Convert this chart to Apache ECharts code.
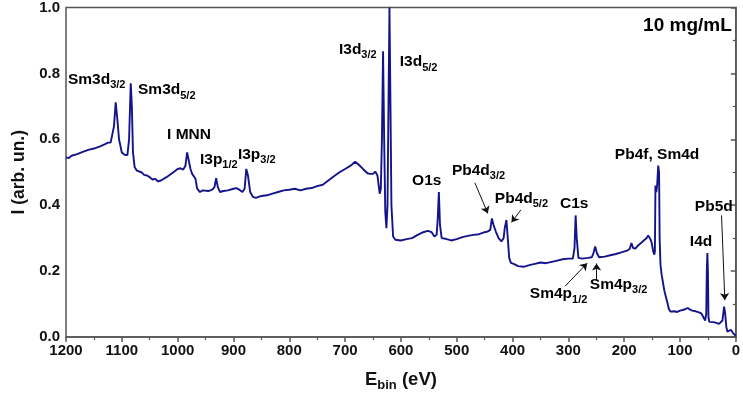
<!DOCTYPE html>
<html>
<head>
<meta charset="utf-8">
<script src="https://cdn.jsdelivr.net/npm/echarts@6/dist/echarts.min.js"></script>
<style>
html,body{margin:0;padding:0;background:#fff;}
#c{width:743px;height:406px;}
</style>
</head>
<body>
<div id="c"></div>
<script>
// Binding energy (eV) and intensity (arb. un.)
const energy = [
1200,1195,1190,1180,1170,1160,1150,1140,1130,1125,1120,1117,1114,1111,1108,1105,1100,1095,1090,1087,1084,1082,1080,1077,1073,1065,1060,1055,1050,1045,1040,1035,1030,1020,1010,1000,995,990,986,983,980,977,974,971,968,965,960,955,945,938,934,931,928,924,918,910,900,895,890,884,880,877,874,870,865,860,850,840,830,820,810,800,790,780,770,760,750,740,730,720,710,700,690,682,675,668,660,655,650,646,642,638,636,634,632,630,628,626,624,622,620.5,619,617,614,610,600,590,580,570,560,552,545,540,536,534,532,530,527,520,510,500,490,480,470,460,450,445,440,437,434,430,425,420,416,414,411,409,406,403,398,390,380,370,360,350,340,330,320,310,300,292,289,287,285,282,275,265,258,255,252,249,245,235,225,215,205,195,190,187,184,180,175,170,165,160,157,154,151,148,146,145,144,142.5,141,139,137.5,136.5,135,133,131,128,125,122,120,117,110,105,100,95,90,86,82,78,72,66,62,58,55,53,52,51,50,49,47.5,45,40,35,30,27,24,21,19,17,15,12,9,7,5,3,1,0
];
const intensity = [
0.545,0.543,0.550,0.555,0.562,0.568,0.572,0.578,0.585,0.590,0.590,0.595,0.640,0.712,0.660,0.600,0.560,0.553,0.552,0.600,0.770,0.700,0.560,0.515,0.505,0.500,0.492,0.490,0.485,0.478,0.480,0.472,0.475,0.485,0.497,0.510,0.512,0.508,0.520,0.560,0.555,0.510,0.495,0.500,0.480,0.450,0.440,0.445,0.443,0.447,0.455,0.482,0.455,0.440,0.443,0.445,0.450,0.452,0.448,0.440,0.450,0.510,0.490,0.440,0.425,0.422,0.428,0.430,0.435,0.440,0.445,0.447,0.450,0.445,0.450,0.452,0.458,0.462,0.475,0.488,0.500,0.510,0.520,0.532,0.522,0.510,0.497,0.495,0.495,0.502,0.490,0.435,0.450,0.600,0.867,0.600,0.380,0.330,0.400,0.750,1.000,0.750,0.400,0.305,0.295,0.293,0.297,0.300,0.310,0.318,0.322,0.318,0.305,0.310,0.360,0.440,0.340,0.300,0.298,0.293,0.297,0.303,0.307,0.310,0.312,0.318,0.320,0.325,0.360,0.340,0.320,0.300,0.290,0.300,0.330,0.355,0.310,0.240,0.225,0.222,0.215,0.213,0.218,0.222,0.226,0.224,0.228,0.232,0.236,0.238,0.238,0.270,0.369,0.300,0.240,0.238,0.240,0.242,0.255,0.275,0.255,0.242,0.244,0.248,0.252,0.257,0.262,0.268,0.285,0.270,0.268,0.278,0.285,0.293,0.300,0.308,0.300,0.288,0.260,0.250,0.260,0.460,0.440,0.460,0.520,0.500,0.300,0.220,0.190,0.170,0.140,0.120,0.100,0.085,0.077,0.078,0.076,0.080,0.082,0.085,0.088,0.083,0.080,0.078,0.075,0.072,0.060,0.050,0.070,0.200,0.255,0.200,0.060,0.046,0.045,0.045,0.043,0.040,0.037,0.050,0.092,0.070,0.030,0.016,0.018,0.022,0.020,0.012,0.010,0.005,0.003
];
const xTicks = [0, 1200, 100];
const yTicks = [0, 1, 0.2];

// Peak labels (rich text) and their anchor points in data coordinates
const annoText = [
  '{m|Sm3d}{s|3/2}', '{m|Sm3d}{s|5/2}', '{m|I MNN}', '{m|I3p}{s|1/2}', '{m|I3p}{s|3/2}',
  '{m|I3d}{s|3/2}', '{m|I3d}{s|5/2}', '{m|O1s}', '{m|Pb4d}{s|3/2}', '{m|Pb4d}{s|5/2}',
  '{m|C1s}', '{m|Sm4p}{s|1/2}', '{m|Sm4p}{s|3/2}', '{m|Pb4f, Sm4d}', '{m|Pb5d}', '{m|I4d}',
  '{t|10 mg/mL}'
];
const annoE = [1196.5, 1071, 1019, 960, 892, 711, 602, 580, 508.7, 431.7, 315, 369, 261.5, 216.7, 73.4, 82.4, 7.2];
const annoI = [0.782, 0.749, 0.613, 0.538, 0.553, 0.873, 0.834, 0.474, 0.505, 0.42, 0.405, 0.13, 0.16, 0.553, 0.396, 0.29, 0.946];
const annoAlign = ['left','left','left','left','left','left','left','left','left','left','left','left','left','left','left','left','right'];

// Arrows: [E start, I start, E end, I end]
const arrows = [
  [467.5, 0.468, 444.3, 0.375],
  [385, 0.386, 401.8, 0.348],
  [306, 0.154, 266.3, 0.224],
  [249.5, 0.172, 249.5, 0.223],
  [25.6, 0.369, 19.7, 0.112]
];

const FONT = '"Liberation Sans", Arial, sans-serif';
const rich = {
  m: {fontSize: 15.5, fontWeight: 'bold', fill: '#000', fontFamily: FONT, lineHeight: 22},
  s: {fontSize: 11, fontWeight: 'bold', fill: '#000', fontFamily: FONT, lineHeight: 11, verticalAlign: 'bottom'},
  t: {fontSize: 19, fontWeight: 'bold', fill: '#000', fontFamily: FONT, lineHeight: 24}
};
const axisColor = '#555';

const chart = echarts.init(document.getElementById('c'), null, {renderer: 'canvas'});
chart.setOption({
  animation: false,
  backgroundColor: '#fff',
  grid: {left: 66, right: 7, top: 6, bottom: 69, show: true, borderColor: axisColor, borderWidth: 1.5, backgroundColor: 'transparent'},
  xAxis: {
    type: 'value', inverse: true, min: xTicks[0], max: xTicks[1], interval: xTicks[2],
    axisLine: {show: true, lineStyle: {color: axisColor, width: 1.5}},
    axisTick: {show: true, inside: false, length: 5, lineStyle: {color: axisColor, width: 1.5}},
    minorTick: {show: true, splitNumber: 2, length: 3, lineStyle: {color: axisColor, width: 1.2}},
    splitLine: {show: false},
    axisLabel: {color: '#111', fontSize: 15, fontWeight: 'bold', fontFamily: FONT, margin: 6,
      formatter: v => String(v)},
    name: '{m|E}{s|bin}{m| (eV)}', nameLocation: 'middle', nameGap: 31,
    nameTextStyle: {rich: {
      m: {fontSize: 18.5, fontWeight: 'bold', color: '#111', fontFamily: FONT, lineHeight: 24},
      s: {fontSize: 13, fontWeight: 'bold', color: '#111', fontFamily: FONT, lineHeight: 13, verticalAlign: 'bottom'}
    }}
  },
  yAxis: {
    type: 'value', min: yTicks[0], max: yTicks[1], interval: yTicks[2],
    axisLine: {show: true, lineStyle: {color: axisColor, width: 1.5}},
    axisTick: {show: true, inside: false, length: 5, lineStyle: {color: axisColor, width: 1.5}},
    minorTick: {show: true, splitNumber: 2, length: 3, lineStyle: {color: axisColor, width: 1.2}},
    splitLine: {show: false},
    axisLabel: {color: '#111', fontSize: 15, fontWeight: 'bold', fontFamily: FONT, margin: 6,
      formatter: v => v.toFixed(1)},
    name: 'I (arb. un.)', nameLocation: 'middle', nameGap: 34,
    nameTextStyle: {fontSize: 17.5, fontWeight: 'bold', color: '#111', fontFamily: FONT}
  },
  series: [
    {
      type: 'line', showSymbol: false, symbol: 'none', clip: true,
      data: energy.map((e, i) => [e, intensity[i]]),
      lineStyle: {color: '#14148a', width: 1.9},
      z: 3
    },
    {
      type: 'lines', coordinateSystem: 'cartesian2d',
      symbol: ['none', 'arrow'], symbolSize: 7,
      lineStyle: {color: '#111', width: 1, opacity: 1, curveness: 0},
      data: arrows.map(a => ({coords: [[a[0], a[1]], [a[2], a[3]]]})),
      silent: true, z: 4
    }
  ]
});

// Place peak labels through the chart's own coordinate conversion
const graphics = annoText.map((t, i) => {
  const p = chart.convertToPixel({gridIndex: 0}, [annoE[i], annoI[i]]);
  return {
    type: 'text', x: p[0], y: p[1], silent: true, z: 10,
    style: {text: t, rich: rich, align: annoAlign[i], verticalAlign: 'middle', fill: '#000',
      font: 'bold 15px ' + FONT}
  };
});
chart.setOption({graphic: graphics});
</script>
</body>
</html>
